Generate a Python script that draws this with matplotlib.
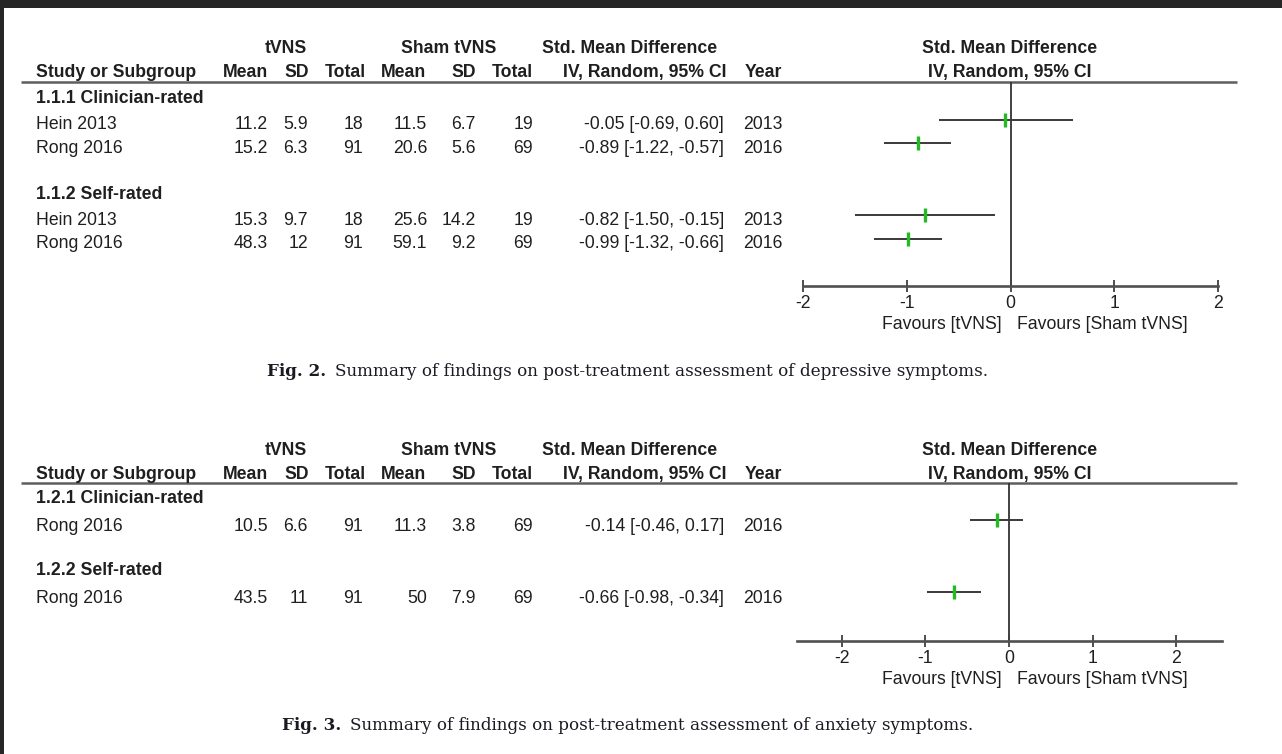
import matplotlib
matplotlib.use('Agg')
import matplotlib.pyplot as plt
from matplotlib import transforms
from matplotlib.patches import Rectangle

plt.rcParams['axes.unicode_minus'] = False

W, H, DPI = 1282, 754, 100

# ---------------- data ----------------
# Fig. 2 - depressive symptoms
dep_groups = ['1.1.1 Clinician-rated', '1.1.2 Self-rated']
dep_group_of = [0, 0, 1, 1]
dep_study = ['Hein 2013', 'Rong 2016', 'Hein 2013', 'Rong 2016']
dep_t_mean = [11.2, 15.2, 15.3, 48.3]
dep_t_sd = [5.9, 6.3, 9.7, 12]
dep_t_n = [18, 91, 18, 91]
dep_s_mean = [11.5, 20.6, 25.6, 59.1]
dep_s_sd = [6.7, 5.6, 14.2, 9.2]
dep_s_n = [19, 69, 19, 69]
dep_smd = [-0.05, -0.89, -0.82, -0.99]
dep_lo = [-0.69, -1.22, -1.50, -1.32]
dep_hi = [0.60, -0.57, -0.15, -0.66]
dep_year = [2013, 2016, 2013, 2016]

# Fig. 3 - anxiety symptoms
anx_groups = ['1.2.1 Clinician-rated', '1.2.2 Self-rated']
anx_group_of = [0, 1]
anx_study = ['Rong 2016', 'Rong 2016']
anx_t_mean = [10.5, 43.5]
anx_t_sd = [6.6, 11]
anx_t_n = [91, 91]
anx_s_mean = [11.3, 50]
anx_s_sd = [3.8, 7.9]
anx_s_n = [69, 69]
anx_smd = [-0.14, -0.66]
anx_lo = [-0.46, -0.98]
anx_hi = [0.17, -0.34]
anx_year = [2016, 2016]

tick_values = [-2, -1, 0, 1, 2]
tick_labels = ['-2', '-1', '0', '1', '2']
header_top = ['tVNS', 'Sham tVNS', 'Std. Mean Difference']
header_cols = ['Mean', 'SD', 'Total', 'Mean', 'SD', 'Total', 'IV, Random, 95% CI', 'Year']
header_first = 'Study or Subgroup'
plot_header = ['Std. Mean Difference', 'IV, Random, 95% CI']
favours = ['Favours [tVNS]', 'Favours [Sham tVNS]']
dep_caption = ('Fig. 2.', 'Summary of findings on post-treatment assessment of depressive symptoms.')
anx_caption = ('Fig. 3.', 'Summary of findings on post-treatment assessment of anxiety symptoms.')

# ---------------- style ----------------
SANS = 'Liberation Sans'
SERIF = 'DejaVu Serif'
FS = 12.7
TXT = '#1f1f1f'
CAP = '#1a1a22'
GREEN = '#22bb22'
TDY = 1.5  # vertical nudge of header texts (pixels, downwards)

fig = plt.figure(figsize=(W / DPI, H / DPI), dpi=DPI)
fig.patch.set_facecolor('white')
bg = fig.add_axes([0, 0, 1, 1])
bg.set_xlim(0, W)
bg.set_ylim(H, 0)
bg.axis('off')
bg.set_zorder(0)

# dark frame of the screenshot
bg.add_patch(Rectangle((0, 0), W, 8, color='#262626', lw=0))
bg.add_patch(Rectangle((0, 0), 4, H, color='#262626', lw=0))

col_right = [268, 308, 363, 427, 476, 533, 724]
year_right = 782
name_left = 36
hdr_x = [245, 297, 345, 404, 464, 512, 645, 763]
top_x = [286, 449, 630]
plot_cx = 1010


def fmt(v):
    return f'{v:g}'


def build_rows(groups, group_of):
    rows = []
    for g, name in enumerate(groups):
        if g > 0:
            rows.append(('blank', None))
        rows.append(('head', name))
        for i, gi in enumerate(group_of):
            if gi == g:
                rows.append(('study', i))
    return rows


def panel(groups, group_of, study, tm, tsd, tn, sm, ssd, sn, smd, lo, hi, year,
          hy1, hy2, line_y, axis_y, row_base, pitch, px0, px1, xlim, text_dy, head_dy,
          fav_y):
    # header texts
    for t, x in zip(header_top, top_x):
        bg.text(x, hy1 + TDY, t, ha='center', va='center', fontsize=FS, fontweight='bold',
                family=SANS, color=TXT)
    bg.text(name_left, hy2 + TDY, header_first, ha='left', va='center', fontsize=FS,
            fontweight='bold', family=SANS, color=TXT)
    for t, x in zip(header_cols, hdr_x):
        bg.text(x, hy2 + TDY, t, ha='center', va='center', fontsize=FS, fontweight='bold',
                family=SANS, color=TXT)
    bg.text(plot_cx, hy1 + TDY, plot_header[0], ha='center', va='center', fontsize=FS,
            fontweight='bold', family=SANS, color=TXT)
    bg.text(plot_cx, hy2 + TDY, plot_header[1], ha='center', va='center', fontsize=FS,
            fontweight='bold', family=SANS, color=TXT)
    bg.plot([21, 1237], [line_y, line_y], color='#5e5e5e', lw=1.8,
            solid_capstyle='butt')

    # forest axes
    ax = fig.add_axes([px0 / W, 1 - axis_y / H, (px1 - px0) / W, (axis_y - line_y) / H])
    ax.set_facecolor('none')
    ax.set_zorder(1)
    ax.set_xlim(*xlim)
    ax.set_ylim((axis_y - row_base) / pitch, (line_y - row_base) / pitch)
    for s in ['top', 'left', 'right']:
        ax.spines[s].set_visible(False)
    ax.spines['bottom'].set_color('#505050')
    ax.spines['bottom'].set_linewidth(1.9)
    ax.set_yticks([])
    ax.set_xticks(tick_values)
    ax.set_xticklabels(tick_labels, family=SANS, fontsize=FS, color=TXT)
    ax.tick_params(axis='x', direction='inout', length=8, width=1.3, color='#404040',
                   pad=2.5)
    ax.axvline(0, color='#333333', lw=1.3, zorder=1)

    rows = build_rows(groups, group_of)
    tr = transforms.blended_transform_factory(bg.transData, ax.transData)
    tr_row = transforms.offset_copy(tr, fig=fig, y=-text_dy, units='dots')
    tr_head = transforms.offset_copy(tr, fig=fig, y=-head_dy, units='dots')
    ys, idx = [], []
    for r, (kind, val) in enumerate(rows):
        if kind == 'head':
            fig.text(name_left, r, val, transform=tr_head, ha='left',
                     va='center', fontsize=FS, fontweight='bold', family=SANS, color=TXT)
        elif kind == 'study':
            i = val
            ys.append(r)
            idx.append(i)
            fig.text(name_left, r, study[i], transform=tr_row, ha='left', va='center',
                     fontsize=FS, family=SANS, color=TXT)
            vals = [fmt(tm[i]), fmt(tsd[i]), str(tn[i]), fmt(sm[i]), fmt(ssd[i]),
                    str(sn[i]), f'{smd[i]:.2f} [{lo[i]:.2f}, {hi[i]:.2f}]']
            for v, x in zip(vals, col_right):
                fig.text(x, r, v, transform=tr_row, ha='right', va='center', fontsize=FS,
                         family=SANS, color=TXT)
            fig.text(year_right, r, str(year[i]), transform=tr_row, ha='right',
                     va='center', fontsize=FS, family=SANS, color=TXT)
    ax.hlines(ys, [lo[i] for i in idx], [hi[i] for i in idx], color='#3a3a3a', lw=1.4,
              zorder=2)
    ax.plot([smd[i] for i in idx], ys, ls='none', marker='|', ms=9.5, mew=2.4,
            color=GREEN, zorder=3)

    # favours labels
    bg.text(1002, fav_y + TDY, favours[0], ha='right', va='center', fontsize=FS,
            family=SANS, color=TXT)
    bg.text(1017, fav_y + TDY, favours[1], ha='left', va='center', fontsize=FS,
            family=SANS, color=TXT)
    return ax


ax2 = panel(dep_groups, dep_group_of, dep_study, dep_t_mean, dep_t_sd, dep_t_n,
            dep_s_mean, dep_s_sd, dep_s_n, dep_smd, dep_lo, dep_hi, dep_year,
            hy1=47, hy2=71, line_y=82, axis_y=286, row_base=95.6, pitch=23.9,
            px0=803, px1=1218, xlim=(-2, 2), text_dy=5.0, head_dy=3.0, fav_y=323)
ax3 = panel(anx_groups, anx_group_of, anx_study, anx_t_mean, anx_t_sd, anx_t_n,
            anx_s_mean, anx_s_sd, anx_s_n, anx_smd, anx_lo, anx_hi, anx_year,
            hy1=449, hy2=473, line_y=483, axis_y=641, row_base=495.9, pitch=24.1,
            px0=797, px1=1222, xlim=(-2.533, 2.545), text_dy=6.5, head_dy=2.6, fav_y=678)

# captions, font size fitted to the width of the reference text
renderer = fig.canvas.get_renderer()
probe = bg.text(0, 0, dep_caption[1], fontsize=10, family=SERIF)
w10 = probe.get_window_extent(renderer).width
probe.remove()
cap_fs = 10 * 653 / w10

for body_x, cy, cap in [(335, 371, dep_caption), (350, 725, anx_caption)]:
    lead = bg.text(0, cy, cap[0], ha='left', va='center', fontsize=cap_fs,
                   fontweight='bold', family=SERIF, color=CAP)
    lw_px = lead.get_window_extent(renderer).width
    lead.set_x(body_x - 9 - lw_px)
    bg.text(body_x, cy, cap[1], ha='left', va='center', fontsize=cap_fs, family=SERIF,
            color=CAP)

fig.savefig('out.png', dpi=DPI, facecolor='white')
